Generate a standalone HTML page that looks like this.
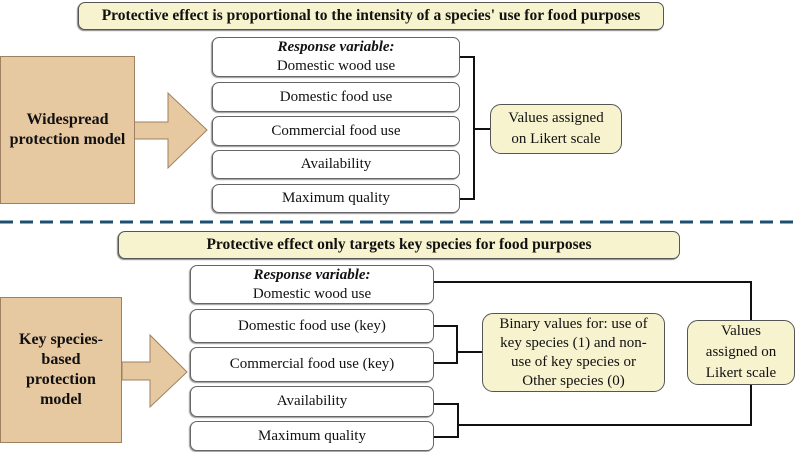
<!DOCTYPE html>
<html><head><meta charset="utf-8"><style>
body{margin:0;width:797px;height:452px;background:#fff;position:relative;overflow:hidden;font-family:"Liberation Serif",serif;color:#111}
.a{position:absolute;box-sizing:border-box;display:flex;align-items:center;justify-content:center;text-align:center}
.ban{background:#f7f3cf;border:1px solid #555;border-radius:7px;font-weight:bold;font-size:15.5px;box-shadow:-1px 1px 1px #888}
.bx{background:#fff;border:1px solid #666;border-radius:7px;font-size:15px;line-height:19px;flex-direction:column;box-shadow:-1px 1px 1px #999}
.y{background:#f7f3cf;border:1px solid #555;border-radius:11px;font-size:15px;line-height:21px}
.tan{background:#e6c8a1;border:1px solid #a08060;font-weight:bold;font-size:16px;line-height:20px}
</style></head><body>
<div class="a ban" style="left:78px;top:2px;width:586px;height:28px">Protective effect is proportional to the intensity of a species' use for food purposes</div>
<div class="a ban" style="left:118px;top:231px;width:562px;height:28px">Protective effect only targets key species for food purposes</div>
<svg width="797" height="452" style="position:absolute;left:0;top:0">
<line x1="0" y1="222" x2="797" y2="222" stroke="#1d4f6e" stroke-width="3" stroke-dasharray="13,7"/>
<polygon points="134,122 168,122 168,93 207,130 168,168 168,139 134,139" fill="#e6c8a1" stroke="#a08060"/>
<polygon points="122,362 150,362 150,335 187,372 150,407 150,380 122,380" fill="#e6c8a1" stroke="#a08060"/>
<g fill="none" stroke="#111" stroke-width="2">
<polyline points="460,57 474,57 474,199 460,199"/>
<line x1="474" y1="129" x2="490" y2="129"/>
<polyline points="434,282 751,282 751,320"/>
<polyline points="434,326 457,326 457,363 434,363"/>
<line x1="457" y1="352" x2="482" y2="352"/>
<polyline points="434,404 458,404 458,437 434,437"/>
<polyline points="458,425 751,425 751,385"/>
</g></svg>
<div class="a tan" style="left:0;top:56px;width:135px;height:148px">Widespread<br>protection model</div>
<div class="a tan" style="left:0;top:297px;width:122px;height:146px">Key species-<br>based<br>protection<br>model</div>
<div class="a bx" style="left:212px;top:37px;width:248px;height:40px"><i><b>Response variable:</b></i><span>Domestic wood use</span></div>
<div class="a bx" style="left:212px;top:82px;width:248px;height:30px">Domestic food use</div>
<div class="a bx" style="left:212px;top:116px;width:248px;height:30px">Commercial food use</div>
<div class="a bx" style="left:212px;top:150px;width:248px;height:29px">Availability</div>
<div class="a bx" style="left:212px;top:184px;width:248px;height:29px">Maximum quality</div>
<div class="a y" style="left:490px;top:104px;width:132px;height:50px">Values assigned<br>on Likert scale</div>
<div class="a bx" style="left:190px;top:265px;width:244px;height:39px"><i><b>Response variable:</b></i><span>Domestic wood use</span></div>
<div class="a bx" style="left:190px;top:309px;width:244px;height:34px">Domestic food use (key)</div>
<div class="a bx" style="left:190px;top:347px;width:244px;height:35px">Commercial food use (key)</div>
<div class="a bx" style="left:190px;top:386px;width:244px;height:31px">Availability</div>
<div class="a bx" style="left:190px;top:421px;width:244px;height:30px">Maximum quality</div>
<div class="a y" style="left:482px;top:313px;width:183px;height:79px;line-height:19px">Binary values for: use of<br>key species (1) and non-<br>use of key species or<br>Other species (0)</div>
<div class="a y" style="left:687px;top:320px;width:108px;height:65px">Values<br>assigned on<br>Likert scale</div>
</body></html>
